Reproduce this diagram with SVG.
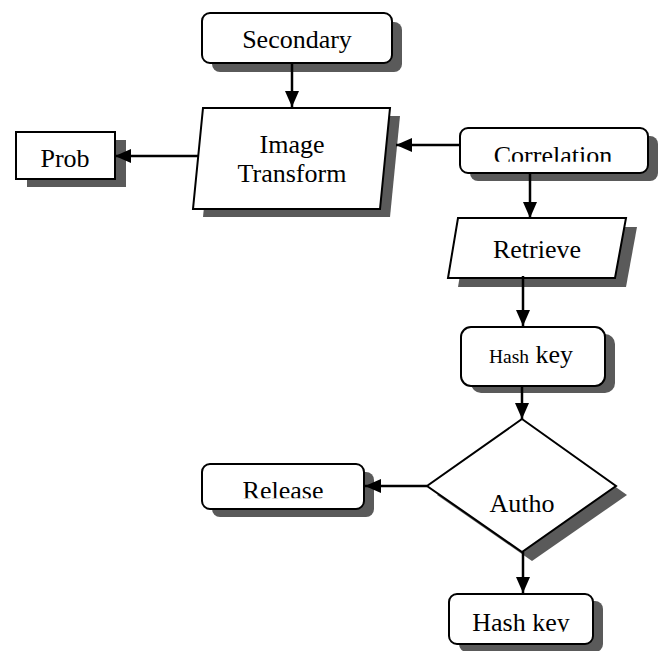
<svg xmlns="http://www.w3.org/2000/svg" width="662" height="651" viewBox="0 0 662 651">
<style>
.shape{fill:#fff;stroke:#000;stroke-width:2}
.shadow{fill:#5a5a5a;stroke:none}
.lbl{font-family:"Liberation Serif","Times New Roman",serif;font-size:26px;fill:#000;text-anchor:middle}
.conn{stroke:#000;stroke-width:2.5;fill:none;marker-end:url(#ah)}
</style>
<defs>
<marker id="ah" markerUnits="userSpaceOnUse" markerWidth="16" markerHeight="14" refX="16" refY="7" orient="auto">
<path d="M0,0 L16,7 L0,14 Z" fill="#000"/>
</marker>
<clipPath id="cCorr"><rect x="0" y="0" width="662" height="161.7"/></clipPath>
<clipPath id="cRel"><rect x="0" y="0" width="662" height="498.3"/></clipPath>
<clipPath id="cHash2"><rect x="0" y="0" width="662" height="631.7"/></clipPath>
</defs>
<rect width="662" height="651" fill="#fff"/>

<g id="secondary">
<rect class="shadow" x="212" y="22" width="190" height="50" rx="8"/>
<rect class="shape" x="202" y="13" width="190" height="50" rx="8"/>
<text class="lbl" x="297" y="48">Secondary</text>
</g>

<g id="image-transform">
<polygon class="shadow" points="213,116 400,116 390,217 203,217"/>
<polygon class="shape" points="203,108 390,108 380,209 193,209"/>
<text class="lbl" x="292" y="153">Image</text>
<text class="lbl" x="292" y="182">Transform</text>
</g>

<g id="prob">
<rect class="shadow" x="27" y="140" width="99" height="47"/>
<rect class="shape" x="16" y="132" width="99" height="47"/>
<text class="lbl" x="65" y="167">Prob</text>
</g>

<g id="correlation">
<rect class="shadow" x="470" y="136" width="188" height="45" rx="8"/>
<rect class="shape" x="460" y="128" width="188" height="45" rx="8"/>
<text class="lbl" x="553" y="164" clip-path="url(#cCorr)">Correlation</text>
</g>

<g id="retrieve">
<polygon class="shadow" points="468,227 637,227 626,287 458,287"/>
<polygon class="shape" points="458,218 626,218 615,278 448,278"/>
<text class="lbl" x="537" y="258">Retrieve</text>
</g>

<g id="hash-key-1">
<rect class="shadow" x="471" y="334" width="144" height="59" rx="10"/>
<rect class="shape" x="461" y="327" width="144" height="59" rx="10"/>
<text x="489" y="363" style="font-family:'Liberation Serif','Times New Roman',serif;fill:#000"><tspan font-size="19.5">Hash</tspan><tspan font-size="26"> key</tspan></text>
</g>

<g id="autho">
<polygon class="shadow" points="532,428 627,495 532,561 437,495"/>
<polygon class="shape" points="522,419 616,486 522,552 427,486"/>
<text class="lbl" x="522" y="512">Autho</text>
</g>

<g id="release">
<rect class="shadow" x="212" y="472" width="162" height="45" rx="8"/>
<rect class="shape" x="202" y="464" width="162" height="45" rx="8"/>
<text class="lbl" x="283" y="499" clip-path="url(#cRel)">Release</text>
</g>

<g id="hash-key-2">
<rect class="shadow" x="459" y="601" width="144" height="51" rx="8"/>
<rect class="shape" x="449" y="594" width="144" height="50" rx="8"/>
<text class="lbl" x="521" y="630.5" clip-path="url(#cHash2)">Hash key</text>
</g>

<g id="connectors">
<line class="conn" x1="292" y1="63" x2="292" y2="107"/>
<line class="conn" x1="198" y1="156" x2="115" y2="156"/>
<line class="conn" x1="460" y1="145" x2="396" y2="145"/>
<line class="conn" x1="530" y1="173" x2="530" y2="218"/>
<line class="conn" x1="523" y1="276" x2="523" y2="326"/>
<line class="conn" x1="522" y1="386" x2="522" y2="419"/>
<line class="conn" x1="427" y1="486" x2="365" y2="486"/>
<line class="conn" x1="523" y1="552" x2="523" y2="593"/>
</g>
</svg>
